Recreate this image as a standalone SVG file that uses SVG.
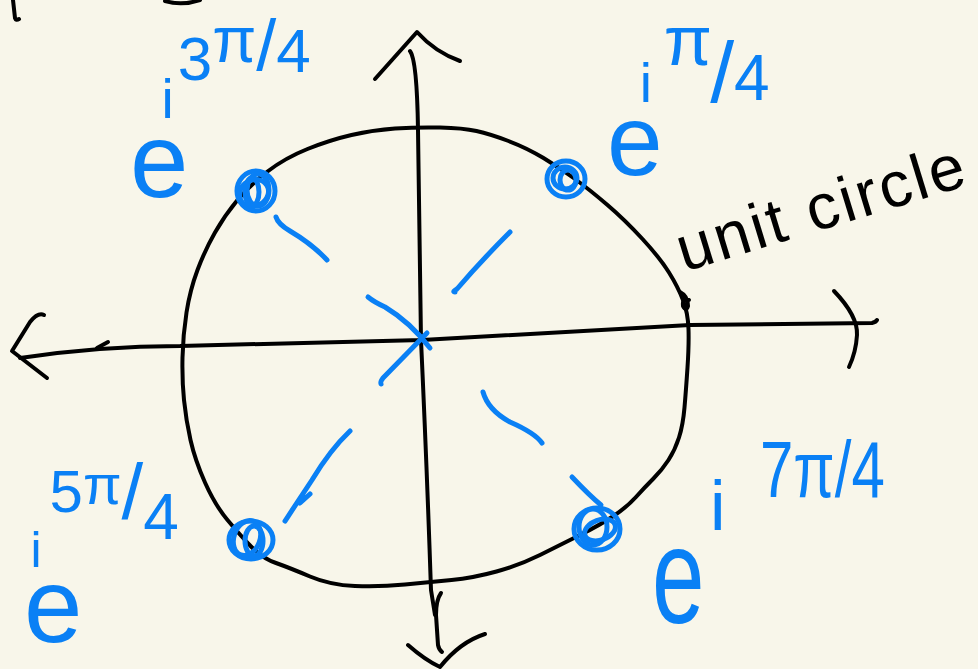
<svg xmlns="http://www.w3.org/2000/svg" width="978" height="669" viewBox="0 0 978 669">
<style>
.ink{fill:none;stroke:#000;stroke-width:4;stroke-linecap:round;stroke-linejoin:round}
.blue{fill:none;stroke:#0a80f5;stroke-width:5;stroke-linecap:round;stroke-linejoin:round}
.lbl{fill:#0a80f5;font-family:"Liberation Sans","DejaVu Sans",sans-serif}
.blk{fill:#000;font-family:"Liberation Sans","DejaVu Sans",sans-serif}
</style>
<rect width="978" height="669" fill="#f8f6ea"/>
<g id="fragments">
<path class="ink" d="M13,0 L15,18 Q16,21 19,19"/>
<path class="ink" stroke-width="6" d="M165,1 Q182,6 200,0"/>
</g>
<g id="connectors">
<path class="ink" d="M410,51 Q417,60 418,130 L421,340 Q427,470 431,590 L435,615"/>
<path class="ink" d="M441,593 Q436,600 436,615 L438,645 Q439,650 442,652"/>
<path class="ink" d="M375,79 L417,32 Q435,52 460,61"/>
<path class="ink" d="M408,645 Q425,660 440,667 Q460,642 485,634"/>
<path class="ink" d="M20,358 Q100,346 180,346 L422,340 Q560,332 690,325 L872,323 Q876,322 877,320"/>
<path class="ink" d="M44,315 Q38,312 30,322 L12,351 L47,378"/>
<path class="ink" d="M97,348 L108,342"/>
<path class="ink" d="M834,291 Q858,316 857,335 Q856,352 849,367"/>
</g>
<g id="unit-circle">
<path class="ink" d="M351.5,135 Q373,130 395,128.5 Q417,127 440,127.5 Q463,128 476.5,131 Q490,134 508.5,141 Q527,148 543.5,158 Q560,168 575,179 Q590,190 607.5,205 Q625,220 642.5,239 Q660,258 669,272.5 Q678,287 683,300 Q688,313 688.5,329 Q689,345 687.5,367.5 Q686,390 684.5,407.5 Q683,425 679,437.5 Q675,450 668.5,460 Q662,470 653.5,478.5 Q645,487 636,497 Q627,507 613.5,516 Q600,525 580,535 Q560,545 540,555 Q520,565 496.5,571.5 Q473,578 451.5,580 Q430,582 405,584.5 Q380,587 355,586 Q330,585 310,576.5 Q290,568 276,563 Q262,558 251,546.5 Q240,535 227.5,520 Q215,505 205,482.5 Q195,460 190.5,440 Q186,420 184,400 Q182,380 182.5,357.5 Q183,335 186.5,312.5 Q190,290 197.5,270 Q205,250 215,232.5 Q225,215 237.5,200 Q250,185 267.5,171.5 Q285,158 307.5,149 Q330,140 351.5,135 Z"/>
<path class="ink" d="M680,292 Q688,296 688,306 Q686,312 683,306 Q682,298 689,300"/>
<text class="blk" font-size="64" textLength="298" lengthAdjust="spacing" transform="translate(684,272) rotate(-17)">unit circle</text>
</g>
<g id="spokes">
<path class="blue" d="M276,217 Q278,224 290,231 Q312,244 327,260"/>
<path class="blue" d="M510,232 Q480,262 457,289 Q452,292 455,292"/>
<path class="blue" d="M368,297 Q374,302 385,307 Q410,322 430,348"/>
<path class="blue" d="M427,333 L383,378 Q380,382 381,384"/>
<path class="blue" d="M483,392 Q488,410 510,422 Q535,433 542,443"/>
<path class="blue" d="M350,431 Q330,450 312,480 L285,521 M300,503 L310,494"/>
<path class="blue" d="M572,477 Q590,496 601,505"/>
</g>
<g id="pt-3pi4">
<ellipse class="blue" cx="256" cy="191" rx="19" ry="20"/>
<ellipse class="blue" cx="258" cy="190" rx="11" ry="16"/>
<ellipse class="blue" cx="254" cy="193" rx="15" ry="13" transform="rotate(-30 254 193)"/>
<ellipse class="blue" cx="252" cy="192" rx="7" ry="14"/>
<text class="lbl" x="130" y="197"><tspan font-size="105">e</tspan><tspan font-size="55" dx="-27" dy="-79">i</tspan><tspan font-size="62" dx="4" dy="-38">3</tspan><tspan font-size="64" dy="-18">π</tspan><tspan font-size="72" dy="8">/</tspan><tspan font-size="62" dy="2">4</tspan></text>
</g>
<g id="pt-pi4">
<ellipse class="blue" cx="566" cy="179" rx="19" ry="18"/>
<ellipse class="blue" cx="565" cy="178" rx="12" ry="11"/>
<ellipse class="blue" cx="568" cy="180" rx="8" ry="10"/>
<text class="lbl" x="607" y="175"><tspan font-size="100">e</tspan><tspan font-size="55" dx="-23" dy="-73">i</tspan><tspan font-size="70" dx="12" dy="-37">π</tspan><tspan font-size="86" dx="-2" dy="37">/</tspan><tspan font-size="64" dy="-2">4</tspan></text>
</g>
<g id="pt-5pi4">
<ellipse class="blue" cx="251" cy="540" rx="22" ry="19"/>
<ellipse class="blue" cx="247" cy="538" rx="13" ry="18" transform="rotate(20 247 538)"/>
<ellipse class="blue" cx="254" cy="541" rx="9" ry="15"/>
<text class="lbl" x="24" y="642"><tspan font-size="105">e</tspan><tspan font-size="50" dx="-52" dy="-75">i</tspan><tspan font-size="60" dx="8" dy="-55">5</tspan><tspan font-size="56" dy="-8">π</tspan><tspan font-size="78" dy="15">/</tspan><tspan font-size="64" dy="20">4</tspan></text>
</g>
<g id="pt-7pi4">
<ellipse class="blue" cx="597" cy="529" rx="23" ry="21"/>
<ellipse class="blue" cx="593" cy="527" rx="14" ry="18"/>
<ellipse class="blue" cx="600" cy="530" rx="16" ry="10" transform="rotate(-20 600 530)"/>
<text class="lbl" font-size="105" transform="translate(652,623) scale(0.9,1.3)">e</text>
<text class="lbl" font-size="70" x="710" y="530">i</text>
<text class="lbl" font-size="80" transform="translate(760,497) scale(0.75,1)">7π/4</text>
</g>
</svg>
